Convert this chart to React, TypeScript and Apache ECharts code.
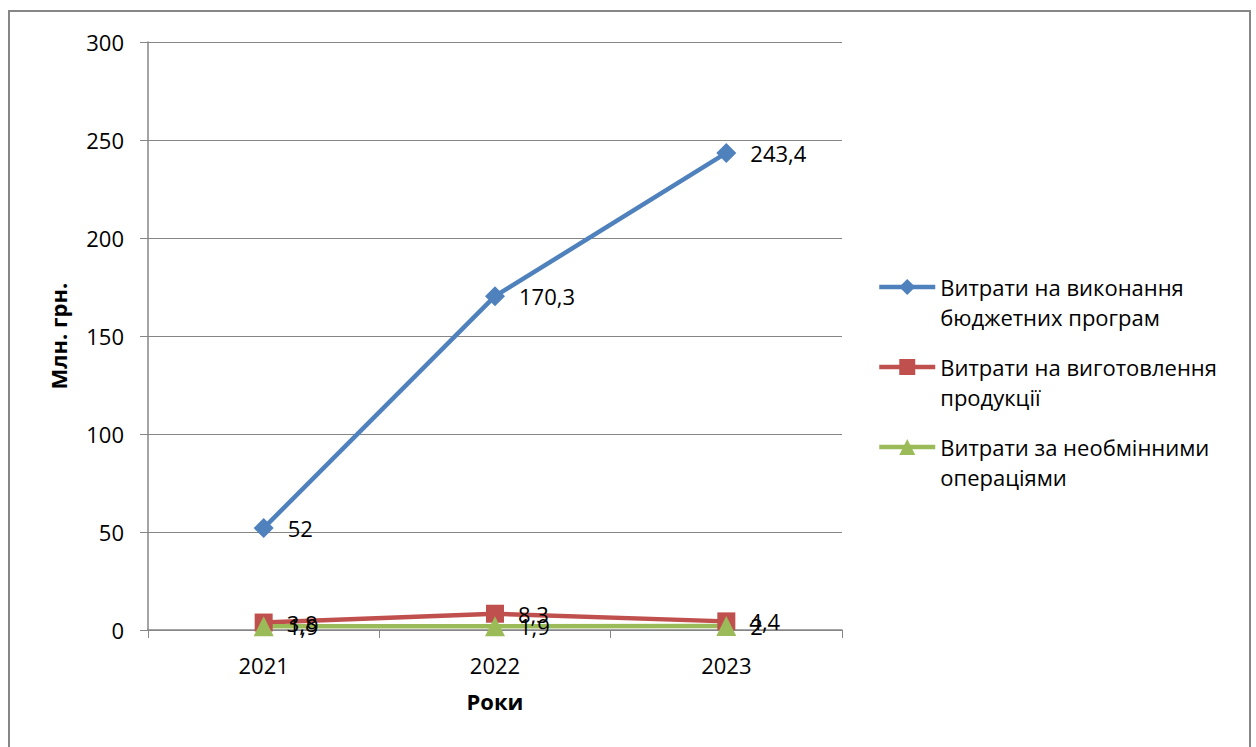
import React, { useEffect, useRef } from "react";
import * as echarts from "echarts";

const categories = ["2021", "2022", "2023"];
const seriesNames = [
  "Витрати на виконання\nбюджетних програм",
  "Витрати на виготовлення\nпродукції",
  "Витрати за необмінними\nопераціями",
];
const budgetPrograms = [52, 170.3, 243.4];
const production = [3.8, 8.3, 4.4];
const nonExchange = [1.9, 1.9, 2];
const yTicks = { min: 0, max: 300, interval: 50 };

const FONT = "Open Sans";
const FS = 22;

export default function App() {
  const ref = useRef<HTMLDivElement>(null);
  useEffect(() => {
    document.body.style.margin = "0";
    const chart = echarts.init(ref.current!, null, { renderer: "svg" });
    const fmt = (p: any) => String(p.value).replace(".", ",");
    const mk = (name: string, data: number[], color: string, symbol: string, size: number) => ({
      name,
      type: "line",
      data,
      symbol,
      symbolSize: size,
      lineStyle: { color, width: 4.5 },
      itemStyle: { color },
      label: {
        show: true,
        position: "right",
        distance: 14,
        formatter: fmt,
        color: "#000",
        fontFamily: FONT,
        fontSize: FS,
      },
    });
    chart.setOption({
      animation: false,
      textStyle: { fontFamily: FONT },
      grid: { left: 148, right: 414, top: 42, bottom: 117 },
      graphic: [
        {
          type: "rect",
          shape: { x: 9, y: 11, width: 1241, height: 760 },
          style: { fill: "none", stroke: "#868686", lineWidth: 2 },
          silent: true,
        },
      ],
      legend: {
        orient: "vertical",
        left: 877,
        top: 242,
        itemWidth: 56,
        itemHeight: 20,
        itemGap: -10,
        padding: 0,
        lineStyle: { width: 4.5 },
        formatter: (n: string) => " \n" + n,
        textStyle: {
          fontFamily: FONT,
          fontSize: FS,
          color: "#000",
          lineHeight: 30,
        },
        data: seriesNames,
      },
      xAxis: {
        type: "category",
        data: categories,
        boundaryGap: true,
        name: "Роки",
        nameLocation: "middle",
        nameGap: 60,
        nameTextStyle: { fontFamily: FONT, fontSize: FS, fontWeight: "bold", color: "#000" },
        axisLine: { lineStyle: { color: "#868686", width: 1.5 } },
        axisTick: { show: true, length: 8, lineStyle: { color: "#868686" } },
        axisLabel: { color: "#000", fontSize: FS, margin: 24, fontFamily: FONT },
      },
      yAxis: {
        type: "value",
        min: yTicks.min,
        max: yTicks.max,
        interval: yTicks.interval,
        name: "Млн. грн.",
        nameLocation: "middle",
        nameGap: 79,
        nameTextStyle: { fontFamily: FONT, fontSize: FS, fontWeight: "bold", color: "#000" },
        axisLine: { show: true, lineStyle: { color: "#868686", width: 1.5 } },
        axisTick: { show: true, length: 8, lineStyle: { color: "#868686" } },
        axisLabel: { color: "#000", fontSize: FS, margin: 24, fontFamily: FONT },
        splitLine: { lineStyle: { color: "#868686", width: 1 } },
      },
      series: [
        mk(seriesNames[0], budgetPrograms, "#4F81BD", "diamond", 20),
        mk(seriesNames[1], production, "#C0504D", "rect", 18),
        mk(seriesNames[2], nonExchange, "#9BBB59", "triangle", 20),
      ],
    });
    return () => chart.dispose();
  }, []);
  return <div ref={ref} style={{ width: 1256, height: 747 }} />;
}
